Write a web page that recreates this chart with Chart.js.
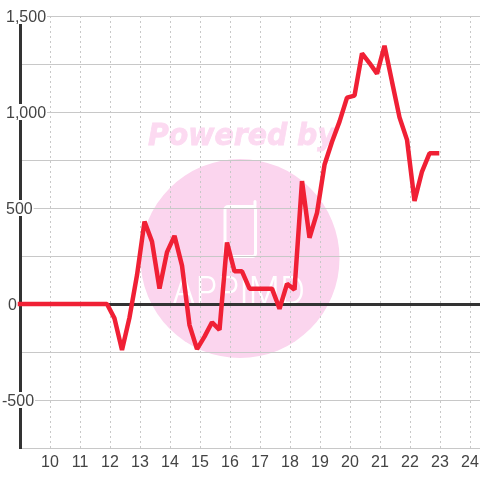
<!DOCTYPE html>
<html>
<head>
<meta charset="utf-8">
<style>
  html, body { margin: 0; padding: 0; background: #fff; }
  #wrap { width: 480px; height: 480px; }
</style>
<script src="https://cdn.jsdelivr.net/npm/chart.js@4"></script>
</head>
<body>
<div id="wrap"><canvas id="chart"></canvas></div>
<script>
const hours = [
  9, 9.15, 9.4, 9.65, 9.9, 10.15, 10.4, 10.65, 10.9, 11.15, 11.4, 11.65, 11.9,
  12.15, 12.4, 12.65, 12.9, 13.15, 13.4, 13.65, 13.9, 14.15, 14.4, 14.65, 14.9,
  15.15, 15.4, 15.65, 15.9, 16.15, 16.4, 16.65, 16.9, 17.15, 17.4, 17.65, 17.9,
  18.15, 18.4, 18.65, 18.9, 19.15, 19.4, 19.65, 19.9, 20.15, 20.4, 20.65, 20.9,
  21.15, 21.4, 21.65, 21.9, 22.15, 22.4, 22.65, 22.9
];
const values = [
  0, 0, 0, 0, 0, 0, 0, 0, 0, 0, 0, 0, 0,
  -75, -240, -70, 150, 430, 325, 80, 270, 355, 200, -110, -235,
  -170, -95, -135, 320, 170, 170, 80, 80, 80, 80, -25, 105,
  75, 640, 345, 475, 725, 845, 950, 1075, 1085, 1305, 1255, 1200,
  1345, 1158, 972, 855, 537, 690, 785, 785
];
const yTickValues = [-500, 0, 500, 1000, 1500];
const yTickLabels = ['-500', '0', '500', '1,000', '1,500'];

// watermark sits behind the grid
const watermark = {
  id: 'watermark',
  beforeDraw(chart) {
    const ctx = chart.ctx;
    ctx.save();
    ctx.fillStyle = '#fbd5ee';
    ctx.beginPath();
    ctx.arc(240, 258.5, 99.5, 0, Math.PI * 2);
    ctx.fill();

    ctx.save();
    ctx.translate(148, 145);
    ctx.scale(0.945, 1);
    ctx.font = 'italic bold 30px "DejaVu Sans"';
    ctx.fillStyle = '#fcdaf1';
    ctx.strokeStyle = '#fcdaf1';
    ctx.lineWidth = 0.8;
    ctx.fillText('Powered by', 0, 0);
    ctx.strokeText('Powered by', 0, 0);
    ctx.restore();

    ctx.strokeStyle = '#fff';
    ctx.lineWidth = 3;
    ctx.lineCap = 'round';
    ctx.beginPath();
    ctx.roundRect(225, 206.5, 30.5, 50, 3);
    ctx.moveTo(255, 206);
    ctx.lineTo(255, 201.5);
    ctx.stroke();

    ctx.save();
    ctx.translate(172, 304);
    ctx.scale(0.92, 1);
    ctx.font = '300 38px Inter';
    ctx.fillStyle = '#fff';
    ctx.fillText('APPIMD', 0, 0);
    ctx.restore();
    ctx.restore();
  }
};

// y labels sit on a white box over the axis line, at the reference's own left edges
const yLabels = {
  id: 'yLabels',
  afterDatasetsDraw(chart) {
    const ctx = chart.ctx;
    const y = chart.scales.y;
    ctx.save();
    ctx.font = '16px "Liberation Sans"';
    ctx.textBaseline = 'middle';
    yTickValues.forEach((v, i) => {
      const left = v < 0 ? 2 : v === 0 ? 8 : 6;
      const py = y.getPixelForValue(v);
      const w = ctx.measureText(yTickLabels[i]).width;
      ctx.fillStyle = '#fff';
      if (v !== 0) ctx.fillRect(left - 1, py - 8, w + 2, 16);
      ctx.fillStyle = '#444';
      ctx.fillText(yTickLabels[i], left, py + 2);
    });
    ctx.restore();
  }
};

new Chart(document.getElementById('chart'), {
  type: 'scatter',
  data: {
    datasets: [{
      data: hours.map((h, i) => ({ x: h, y: values[i] })),
      showLine: true,
      borderColor: '#f02035',
      borderWidth: 4.5,
      borderCapStyle: 'square',
      borderJoinStyle: 'bevel',
      pointRadius: 0,
      tension: 0,
      clip: false
    }]
  },
  options: {
    responsive: true,
    maintainAspectRatio: false,
    animation: false,
    layout: { padding: { top: 16 } },
    plugins: { legend: { display: false }, tooltip: { enabled: false } },
    scales: {
      x: {
        type: 'linear',
        min: 9,
        max: 24.333,
        afterBuildTicks(axis) {
          axis.ticks = [];
          for (let h = 9; h <= 24; h++) axis.ticks.push({ value: h });
        },
        afterFit(axis) {
          axis.height = 32;
          axis.paddingLeft = 0;
          axis.paddingRight = 0;
        },
        border: { display: false, dash: [2, 3] },
        grid: { color: '#c8c8c8', lineWidth: 1, drawTicks: false },
        ticks: {
          autoSkip: false,
          maxRotation: 0,
          padding: 5,
          color: '#444',
          font: { family: '"Liberation Sans"', size: 16 },
          callback: v => (v === 9 ? '' : String(v))
        }
      },
      y: {
        min: -750,
        max: 1500,
        afterFit(axis) { axis.width = 20; },
        border: { display: true, color: '#333', width: 3 },
        grid: {
          drawTicks: false,
          color: c => (c.tick && c.tick.value === 0 ? '#333' : '#c8c8c8'),
          lineWidth: c => (c.tick && c.tick.value === 0 ? 3 : 1)
        },
        ticks: {
          stepSize: 250,
          mirror: true,
          callback: () => ''
        }
      }
    }
  },
  plugins: [watermark, yLabels]
});
</script>
</body>
</html>
